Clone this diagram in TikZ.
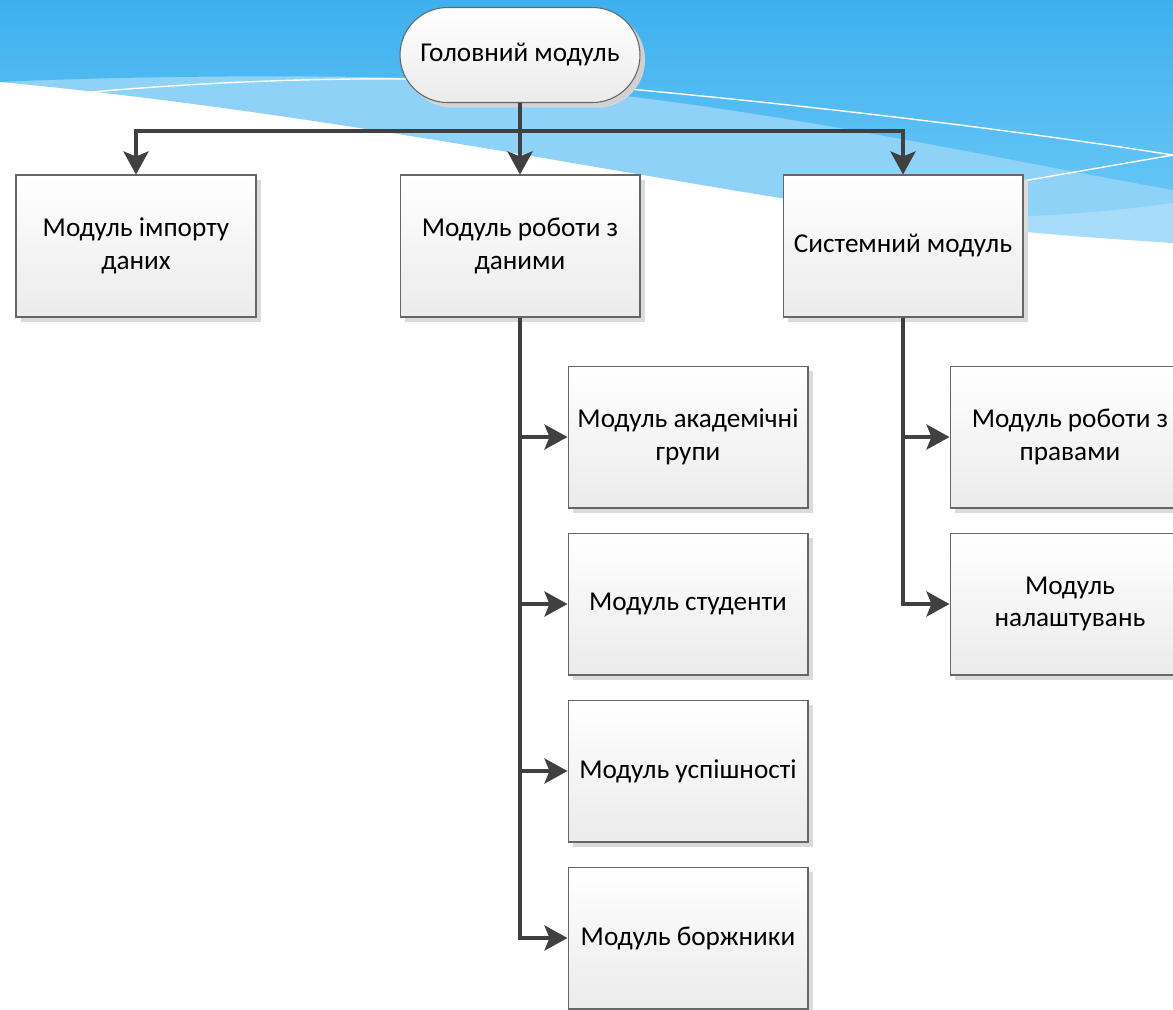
\documentclass[tikz,border=0pt]{standalone}
\usepackage{fontspec}
\setmainfont{Carlito}
\usetikzlibrary{arrows.meta, shadows}
\definecolor{skytop}{RGB}{62,176,238}
\definecolor{skybot}{RGB}{100,197,246}
\definecolor{skymid}{RGB}{142,210,248}
\definecolor{skylight}{RGB}{167,221,250}
\definecolor{linkgray}{RGB}{64,64,64}
\definecolor{boxgray}{RGB}{235,235,235}

\begin{document}
\begin{tikzpicture}[x=0.02cm, y=-0.02cm,
  every node/.style={font=\fontsize{15.5}{18.5}\selectfont},
  mod/.style={draw=black!60, line width=0.6pt, minimum width=4.8cm, minimum height=2.84cm,
    inner sep=2pt, align=center, top color=white, bottom color=boxgray,
    drop shadow={fill=black!14, opacity=1, shadow xshift=0.1cm, shadow yshift=-0.1cm}},
  head/.style={mod, minimum height=1.9cm, rounded corners=0.95cm,
    drop shadow={fill=black!25, opacity=0.35, shadow xshift=0.1cm, shadow yshift=-0.08cm}},
  ed/.style={-{Stealth[length=0.46cm, width=0.5cm, inset=0.1cm]}, line width=0.08cm, linkgray},
  swirl/.style={white, line width=0.8pt}
]
\useasboundingbox (0,0) rectangle (1173,1009);
% sky in the top band
\fill[skylight] (560,140) -- (800,201) .. controls (950,225) and (1000,232) .. (1173,243)
  -- (1173,150) -- cycle;
\fill[skymid] (0,82) .. controls (300,110) and (600,170) .. (800,201)
  .. controls (950,225) and (1060,218) .. (1173,203) -- (1173,0) -- (0,0) -- cycle;
\shade[top color=skytop, bottom color=skybot] (0,0) -- (1173,0) -- (1173,190)
  .. controls (950,150) and (700,92) .. (420,78) .. controls (250,74) and (80,78) .. (0,82) -- cycle;
\draw[swirl] (92,92) .. controls (250,78) and (450,72) .. (640,90)
  .. controls (820,107) and (1000,128) .. (1173,155);
\draw[swirl] (1023,181) -- (1173,155);
% modules
\node[head] (main) at (520,55) {Головний модуль};
\node[mod] (imp) at (136,246) {Модуль імпорту\\даних};
\node[mod] (data) at (520,246) {Модуль роботи з\\даними};
\node[mod] (sys) at (903,246) {Системний модуль};
\foreach \n/\y/\t in {acad/437/{Модуль академічні\\групи}, stud/604/{Модуль студенти},
                      usp/771/{Модуль успішності}, borg/938/{Модуль боржники}}
  \node[mod] (\n) at (688,\y) {\t};
\node[mod] (prava) at (1070,437) {Модуль роботи з\\правами};
\node[mod] (nal) at (1070,604) {Модуль\\налаштувань};
% links
\coordinate (bus) at (520,131);
\draw[ed] (main.south) -- (data.north);
\draw[ed] (bus) -| (imp.north);
\draw[ed] (bus) -| (sys.north);
\foreach \n in {acad,stud,usp,borg} \draw[ed] (data.south) |- (\n.west);
\foreach \n in {prava,nal} \draw[ed] (sys.south) |- (\n.west);
\end{tikzpicture}
\end{document}
